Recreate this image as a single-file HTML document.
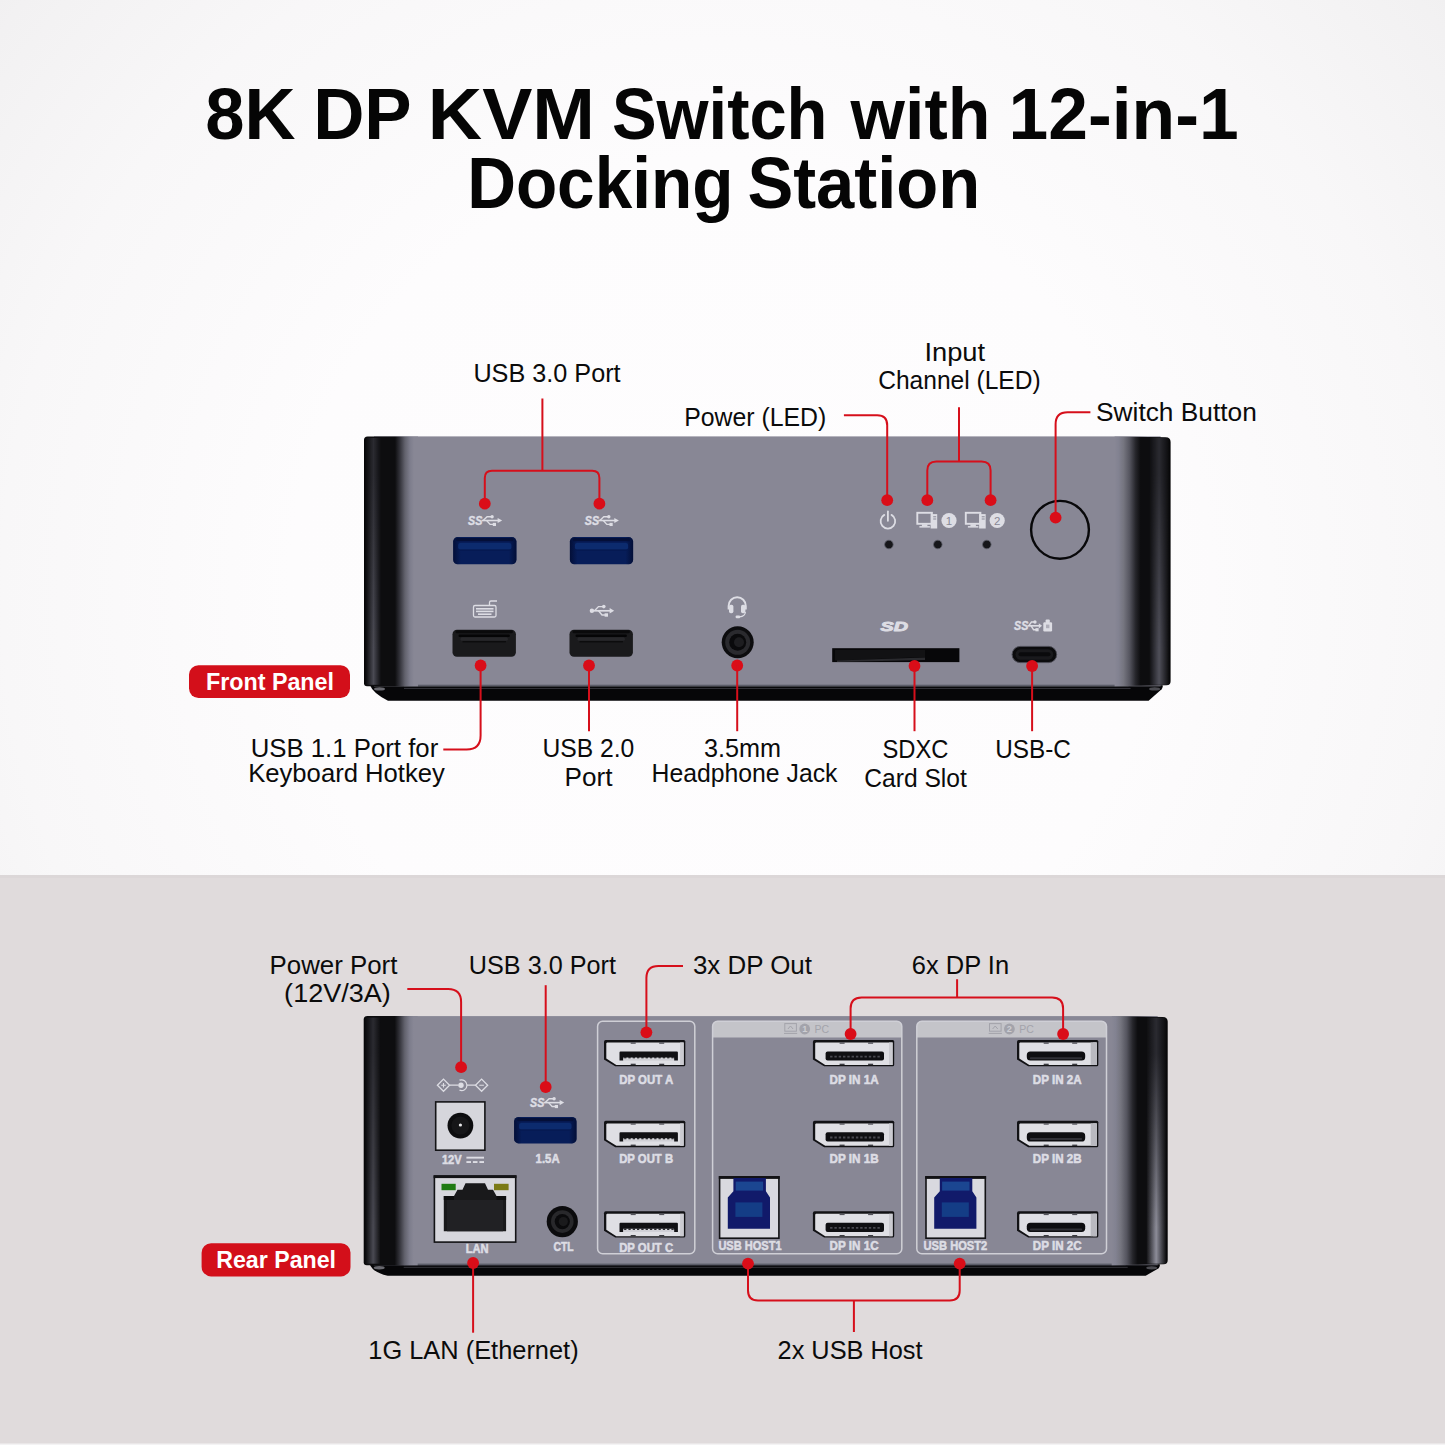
<!DOCTYPE html>
<html><head><meta charset="utf-8"><title>8K DP KVM Switch</title>
<style>
html,body{margin:0;padding:0;background:#fff;}
body{width:1445px;height:1445px;overflow:hidden;}
svg{display:block;font-family:"Liberation Sans",sans-serif;}
</style></head><body>
<svg width="1445" height="1445" viewBox="0 0 1445 1445">
<defs>
<radialGradient id="bgTop" gradientUnits="userSpaceOnUse" cx="722" cy="590" r="960">
 <stop offset="0" stop-color="#fefdfe"/><stop offset="0.45" stop-color="#fdfcfd"/><stop offset="0.75" stop-color="#f8f7f8"/><stop offset="0.95" stop-color="#f2f1f2"/><stop offset="1" stop-color="#f0eff0"/>
</radialGradient>
<linearGradient id="usb3h" x1="0" x2="1" y1="0" y2="0">
 <stop offset="0" stop-color="#020a2c" stop-opacity="0.75"/><stop offset="0.12" stop-color="#020a2c" stop-opacity="0"/><stop offset="0.88" stop-color="#020a2c" stop-opacity="0"/><stop offset="1" stop-color="#020a2c" stop-opacity="0.75"/>
</linearGradient>
</defs>
<rect x="0" y="0" width="1445" height="875" fill="url(#bgTop)"/>
<rect x="0" y="875" width="1445" height="570" fill="#e0dbdc"/>
<rect x="0" y="875" width="1445" height="3" fill="#dcd7d8"/>
<rect x="0" y="1443.5" width="1445" height="2" fill="#f4f3f4"/>
<text x="205.33" y="138.7" font-size="71.6" font-weight="bold" fill="#050505" textLength="90.28" lengthAdjust="spacingAndGlyphs" >8K</text>
<text x="313.14" y="138.7" font-size="71.6" font-weight="bold" fill="#050505" textLength="98.50" lengthAdjust="spacingAndGlyphs" >DP</text>
<text x="427.80" y="138.7" font-size="71.6" font-weight="bold" fill="#050505" textLength="167.18" lengthAdjust="spacingAndGlyphs" >KVM</text>
<text x="611.93" y="138.7" font-size="71.6" font-weight="bold" fill="#050505" textLength="215.56" lengthAdjust="spacingAndGlyphs" >Switch</text>
<text x="850.58" y="138.7" font-size="71.6" font-weight="bold" fill="#050505" textLength="139.87" lengthAdjust="spacingAndGlyphs" >with</text>
<text x="1008.61" y="138.7" font-size="71.6" font-weight="bold" fill="#050505" textLength="230.00" lengthAdjust="spacingAndGlyphs" >12-in-1</text>
<text x="467.13" y="208.2" font-size="71.6" font-weight="bold" fill="#050505" textLength="266.33" lengthAdjust="spacingAndGlyphs" >Docking</text>
<text x="747.38" y="208.2" font-size="71.6" font-weight="bold" fill="#050505" textLength="232.80" lengthAdjust="spacingAndGlyphs" >Station</text>
<linearGradient id="sl1" gradientUnits="userSpaceOnUse" x1="364" x2="418.0" y1="0" y2="0"><stop offset="0.0000" stop-color="#040405"/><stop offset="0.0370" stop-color="#0c0c0e"/><stop offset="0.2963" stop-color="#0d0d0f"/><stop offset="0.5741" stop-color="#0d0d0f"/><stop offset="0.6574" stop-color="#303037"/><stop offset="0.7593" stop-color="#62626d"/><stop offset="0.8519" stop-color="#7d7d8c"/><stop offset="0.9259" stop-color="#888795"/><stop offset="1.0000" stop-color="#888795"/></linearGradient>
<linearGradient id="sr1" gradientUnits="userSpaceOnUse" x1="1170.6" x2="1114.6" y1="0" y2="0"><stop offset="0.0000" stop-color="#050506"/><stop offset="0.0446" stop-color="#0b0b0d"/><stop offset="0.3571" stop-color="#0d0d0f"/><stop offset="0.5357" stop-color="#0d0d0f"/><stop offset="0.6250" stop-color="#26262b"/><stop offset="0.7321" stop-color="#55555f"/><stop offset="0.8393" stop-color="#75757f"/><stop offset="0.9286" stop-color="#828291"/><stop offset="1.0000" stop-color="#888795"/></linearGradient>
<path d="M370,685.3 Q373,693.3 388,700.8 L1148.6,700.8 L1161.6,689.3 Q1163.1,687.3 1162.6,685.3 Z" fill="#060608"/>
<ellipse cx="379.5" cy="688.9" rx="5.5" ry="1.7" fill="#8a8a92" opacity="0.75"/>
<ellipse cx="1154.6" cy="688.9" rx="5.5" ry="1.6" fill="#7a7a82" opacity="0.6"/>
<rect x="404" y="687.9" width="726.5999999999999" height="1.1" fill="#34343b" opacity="0.9"/>
<rect x="374" y="436.4" width="786.5999999999999" height="249.89999999999998" fill="#888795"/>
<rect x="404.0" y="684.6999999999999" width="724.5999999999999" height="1.6" fill="#5b5c68"/>
<path d="M367.5,436.4 L418.0,436.4 L418.0,686.3 L367,686.3 Q364,686.3 364,683.3 L364,439.9 Q364,436.4 367.5,436.4 Z" fill="url(#sl1)"/>
<path d="M1165.6,437.2 L1114.6,436.4 L1114.6,686.3 L1166.6,685.3 Q1170.6,685.3 1170.6,681.3 L1170.6,441.9 Q1170.6,437.2 1165.6,437.2 Z" fill="url(#sr1)"/>
<linearGradient id="hl1h" gradientUnits="userSpaceOnUse" x1="366.0" x2="381.0" y1="0" y2="0"><stop offset="0" stop-color="#000"/><stop offset="0.3" stop-color="#999"/><stop offset="0.5" stop-color="#fff"/><stop offset="0.7" stop-color="#999"/><stop offset="1" stop-color="#000"/></linearGradient>
<linearGradient id="hl1v" gradientUnits="userSpaceOnUse" x1="0" x2="0" y1="436.4" y2="686.3"><stop offset="0" stop-color="#2b2b31"/><stop offset="0.15" stop-color="#2b2b31"/><stop offset="0.85" stop-color="#4a4a53"/><stop offset="1" stop-color="#4a4a53"/></linearGradient>
<mask id="hl1m" maskUnits="userSpaceOnUse" x="366.0" y="436.4" width="15.0" height="249.89999999999998"><rect x="366.0" y="436.4" width="15.0" height="249.89999999999998" fill="url(#hl1h)"/></mask>
<rect x="366.0" y="437.9" width="15.0" height="246.89999999999998" fill="url(#hl1v)" mask="url(#hl1m)"/>
<linearGradient id="hr1h" gradientUnits="userSpaceOnUse" x1="1149.1" x2="1169.1" y1="0" y2="0"><stop offset="0" stop-color="#000"/><stop offset="0.3" stop-color="#999"/><stop offset="0.5" stop-color="#fff"/><stop offset="0.7" stop-color="#999"/><stop offset="1" stop-color="#000"/></linearGradient>
<linearGradient id="hr1v" gradientUnits="userSpaceOnUse" x1="0" x2="0" y1="436.4" y2="686.3"><stop offset="0" stop-color="#2b2b31"/><stop offset="0.15" stop-color="#2b2b31"/><stop offset="0.85" stop-color="#50505a"/><stop offset="1" stop-color="#50505a"/></linearGradient>
<mask id="hr1m" maskUnits="userSpaceOnUse" x="1149.1" y="436.4" width="20" height="249.89999999999998"><rect x="1149.1" y="436.4" width="20" height="249.89999999999998" fill="url(#hr1h)"/></mask>
<rect x="1149.1" y="437.9" width="20" height="246.89999999999998" fill="url(#hr1v)" mask="url(#hr1m)"/>
<rect x="453.2" y="537.1" width="63.2" height="27.2" rx="4.5" fill="#071d59"/>
<rect x="453.2" y="537.1" width="63.2" height="27.2" rx="4.5" fill="url(#usb3h)"/>
<rect x="456.2" y="538.1" width="57.2" height="3.2" rx="1.5" fill="#040f38"/>
<rect x="458.2" y="543.1" width="53.2" height="6.5" rx="2" fill="#0c2b6e"/>
<rect x="458.2" y="549.6" width="53.2" height="1.2" fill="#061a52"/>
<rect x="569.9" y="537.1" width="63.2" height="27.2" rx="4.5" fill="#071d59"/>
<rect x="569.9" y="537.1" width="63.2" height="27.2" rx="4.5" fill="url(#usb3h)"/>
<rect x="572.9" y="538.1" width="57.2" height="3.2" rx="1.5" fill="#040f38"/>
<rect x="574.9" y="543.1" width="53.2" height="6.5" rx="2" fill="#0c2b6e"/>
<rect x="574.9" y="549.6" width="53.2" height="1.2" fill="#061a52"/>
<rect x="452.5" y="629.8" width="63.4" height="27" rx="4.5" fill="#1a1a1c"/>
<rect x="455.5" y="630.3" width="57.4" height="3" rx="1.5" fill="#0a0a0b"/>
<rect x="458.5" y="634.5999999999999" width="51.4" height="2.4" rx="1.2" fill="#050506"/>
<rect x="460.5" y="637.1999999999999" width="47.4" height="3.6" rx="1.5" fill="#27272a"/>
<rect x="462.5" y="641.0" width="43.4" height="1.4" fill="#0c0c0d"/>
<rect x="569.5" y="629.8" width="63.4" height="27" rx="4.5" fill="#1a1a1c"/>
<rect x="572.5" y="630.3" width="57.4" height="3" rx="1.5" fill="#0a0a0b"/>
<rect x="575.5" y="634.5999999999999" width="51.4" height="2.4" rx="1.2" fill="#050506"/>
<rect x="577.5" y="637.1999999999999" width="47.4" height="3.6" rx="1.5" fill="#27272a"/>
<rect x="579.5" y="641.0" width="43.4" height="1.4" fill="#0c0c0d"/>
<g fill="#dddde4" stroke="none">
<text x="468.09999999999997" y="524.9000000000001" font-size="12" font-weight="bold" font-style="italic" textLength="14.2" lengthAdjust="spacingAndGlyphs" fill="#dddde4" stroke="#dddde4" stroke-width="0.45">SS</text>
<path d="M481.59999999999997,520.524 L498.59999999999997,520.524" stroke="#dddde4" stroke-width="1.6" fill="none"/>
<path d="M483.09999999999997,520.524 L487.09999999999997,516.724 L491.59999999999997,516.724" stroke="#dddde4" stroke-width="1.4" fill="none"/>
<path d="M486.59999999999997,520.524 L490.09999999999997,524.424 L493.59999999999997,524.424" stroke="#dddde4" stroke-width="1.4" fill="none"/>
<circle cx="492.09999999999997" cy="516.724" r="1.7"/>
<rect x="492.79999999999995" y="522.824" width="3.2" height="3.2"/>
<path d="M497.59999999999997,517.924 L502.2,520.524 L497.59999999999997,523.124 Z"/>
</g>
<g fill="#dddde4" stroke="none">
<text x="584.8000000000001" y="524.9000000000001" font-size="12" font-weight="bold" font-style="italic" textLength="14.2" lengthAdjust="spacingAndGlyphs" fill="#dddde4" stroke="#dddde4" stroke-width="0.45">SS</text>
<path d="M598.3000000000001,520.524 L615.3000000000001,520.524" stroke="#dddde4" stroke-width="1.6" fill="none"/>
<path d="M599.8000000000001,520.524 L603.8000000000001,516.724 L608.3000000000001,516.724" stroke="#dddde4" stroke-width="1.4" fill="none"/>
<path d="M603.3000000000001,520.524 L606.8000000000001,524.424 L610.3000000000001,524.424" stroke="#dddde4" stroke-width="1.4" fill="none"/>
<circle cx="608.8000000000001" cy="516.724" r="1.7"/>
<rect x="609.5000000000001" y="522.824" width="3.2" height="3.2"/>
<path d="M614.3000000000001,517.924 L618.9000000000001,520.524 L614.3000000000001,523.124 Z"/>
</g>
<g stroke="#dddde4" fill="none" stroke-width="1.3"><rect x="473.5" y="605.5" width="22.5" height="11.5" rx="1.5"/><path d="M489.5,605.5 V602.5 Q489.5,601 491,601 H497"/></g>
<g fill="#dddde4"><rect x="476" y="608" width="17.5" height="1.6"/><rect x="476" y="610.6" width="17.5" height="1.6"/><rect x="478" y="613.4" width="13.5" height="1.6"/></g>
<g fill="#dddde4" stroke="#dddde4"><path d="M591,610.8 H611" stroke-width="1.7" fill="none"/><path d="M594.5,610.8 L598.5,606.6 H603" stroke-width="1.4" fill="none"/><path d="M598.5,610.8 L602,615 H605.5" stroke-width="1.4" fill="none"/><circle cx="591.9" cy="610.8" r="2.2" stroke="none"/><circle cx="603.8" cy="606.6" r="1.8" stroke="none"/><rect x="604.6" y="613.3" width="3.4" height="3.4" stroke="none"/><path d="M609.6,608 L614.2,610.8 L609.6,613.6 Z" stroke="none"/></g>
<g stroke="#dddde4" fill="none" stroke-width="1.9"><path d="M728.6,609.5 V606 a8.6,8.8 0 0 1 17.2,0 V609.5"/><path d="M745.4,612 Q745.2,616.3 739.5,616.9" stroke-width="1.2"/></g>
<g fill="#dddde4"><rect x="729" y="604.8" width="4.4" height="8.4" rx="1.8"/><rect x="741" y="604.8" width="4.4" height="8.4" rx="1.8"/><rect x="735.6" y="615.4" width="4.6" height="2.9" rx="1.2"/></g>
<circle cx="737.7" cy="642.3" r="16" fill="#0c0c0e"/><circle cx="737.7" cy="642.3" r="12.5" fill="#2a2a2e"/><circle cx="737.7" cy="642.3" r="8.5" fill="#0a0a0c"/><circle cx="739" cy="642.3" r="5" fill="#1d1d20"/>
<g stroke="#dddde4" fill="none" stroke-width="1.8" stroke-linecap="round"><path d="M884.3,514.9 A7.3,7.3 0 1 0 891.5,514.9"/><path d="M887.9,511.3 V520.8"/></g>
<g stroke="#dddde4" fill="none" stroke-width="1.9"><rect x="917.3" y="512.8000000000001" width="14.6" height="11"/></g>
<g fill="#dddde4"><rect x="921.9" y="524.2" width="5.5" height="2.3"/><rect x="919.4" y="526.1" width="10.5" height="1.5"/><rect x="930.6" y="514.1" width="6.6" height="14.4"/></g>
<g fill="#888795"><rect x="933.1999999999999" y="516.3000000000001" width="3" height="1"/><rect x="933.1999999999999" y="518.5" width="3" height="1"/></g>
<g stroke="#dddde4" fill="none" stroke-width="1.9"><rect x="965.8" y="512.8000000000001" width="14.6" height="11"/></g>
<g fill="#dddde4"><rect x="970.4" y="524.2" width="5.5" height="2.3"/><rect x="967.9" y="526.1" width="10.5" height="1.5"/><rect x="979.1" y="514.1" width="6.6" height="14.4"/></g>
<g fill="#888795"><rect x="981.6999999999999" y="516.3000000000001" width="3" height="1"/><rect x="981.6999999999999" y="518.5" width="3" height="1"/></g>
<circle cx="949" cy="520.5" r="7.6" fill="#dddde4"/>
<text x="949" y="524.6" font-size="11.5" text-anchor="middle" fill="#888795">1</text>
<circle cx="997.2" cy="520.5" r="7.6" fill="#dddde4"/>
<text x="997.2" y="524.6" font-size="11.5" text-anchor="middle" fill="#888795">2</text>
<circle cx="888.9" cy="544.5" r="4.3" fill="#16161a" stroke="#5e5f6b" stroke-width="0.8"/>
<circle cx="937.8" cy="544.5" r="4.3" fill="#16161a" stroke="#5e5f6b" stroke-width="0.8"/>
<circle cx="986.8" cy="544.5" r="4.3" fill="#16161a" stroke="#5e5f6b" stroke-width="0.8"/>
<circle cx="1060" cy="529.8" r="28.9" fill="none" stroke="#08080a" stroke-width="2.4"/>
<text x="880.6" y="630.9" font-size="13.2" font-weight="bold" font-style="italic" fill="#dddde4" stroke="#dddde4" stroke-width="0.9" stroke-linejoin="round" textLength="27.4" lengthAdjust="spacingAndGlyphs">SD</text>
<rect x="832.2" y="648.2" width="127.2" height="13.9" fill="#070709"/><path d="M835,650 H925 V657 L838,660.5 H835 Z" fill="#121214"/><path d="M837,660.6 L925,657.6 V660 L837,662.1 Z" fill="#2a2a2e"/>
<g fill="#dddde4" stroke="none">
<text x="1014.1" y="630.2" font-size="12" font-weight="bold" font-style="italic" textLength="14.2" lengthAdjust="spacingAndGlyphs" fill="#dddde4" stroke="#dddde4" stroke-width="0.45">SS</text>
<path d="M1027.6,625.824 L1039.5,625.824" stroke="#dddde4" stroke-width="1.6" fill="none"/>
<path d="M1028.6499999999999,625.824 L1031.4499999999998,622.024 L1034.6,622.024" stroke="#dddde4" stroke-width="1.4" fill="none"/>
<path d="M1031.1,625.824 L1033.55,629.7239999999999 L1036.0,629.7239999999999" stroke="#dddde4" stroke-width="1.4" fill="none"/>
<circle cx="1034.9499999999998" cy="622.024" r="1.7"/>
<rect x="1035.4399999999998" y="628.1239999999999" width="3.2" height="3.2"/>
<path d="M1038.8,623.2239999999999 L1042.02,625.824 L1038.8,628.424 Z"/>
</g>
<g fill="#dddde4"><rect x="1043.3" y="622.2" width="8.8" height="9.3" rx="1.2"/><rect x="1045.6" y="619.6" width="4.2" height="3.4" rx="1"/><rect x="1046" y="624.6" width="3.4" height="3.6" fill="#888795" opacity="0.55"/></g>
<rect x="1012.1" y="646.4" width="44.6" height="16.2" rx="8.1" fill="#0b0b0d" stroke="#4b4b55" stroke-width="1"/><rect x="1015.5" y="649.3" width="37.8" height="10.4" rx="5.2" fill="#19191c"/><rect x="1018.5" y="652.3" width="32" height="4" rx="2" fill="#0a0a0c"/>
<text x="473.40" y="382.4" font-size="25.3" font-weight="normal" fill="#0b0b0b" textLength="147.23" lengthAdjust="spacingAndGlyphs" >USB 3.0 Port</text>
<path d="M542.4,398.5 V470.8 M484.8,503.7 V478 Q484.8,470.8 492,470.8 H592.2 Q599.4,470.8 599.4,478 V503.7" fill="none" stroke="#d60f1b" stroke-width="2"/>
<circle cx="484.8" cy="503.7" r="5.9" fill="#da0d18"/>
<circle cx="599.4" cy="503.7" r="5.9" fill="#da0d18"/>
<text x="684.24" y="425.9" font-size="25.3" font-weight="normal" fill="#0b0b0b" textLength="142.06" lengthAdjust="spacingAndGlyphs" >Power (LED)</text>
<path d="M843.9,415.2 H877.2 Q887.2,415.2 887.2,425.2 V500" fill="none" stroke="#d60f1b" stroke-width="2"/>
<circle cx="887.2" cy="500.2" r="5.9" fill="#da0d18"/>
<text x="924.44" y="360.6" font-size="25.3" font-weight="normal" fill="#0b0b0b" textLength="60.69" lengthAdjust="spacingAndGlyphs" >Input</text>
<text x="878.23" y="389.0" font-size="25.3" font-weight="normal" fill="#0b0b0b" textLength="162.35" lengthAdjust="spacingAndGlyphs" >Channel (LED)</text>
<path d="M959,407.2 V461.5 M927.3,500 V470.5 Q927.3,461.5 936.3,461.5 H981.6 Q990.6,461.5 990.6,470.5 V500" fill="none" stroke="#d60f1b" stroke-width="2"/>
<circle cx="927.3" cy="500.2" r="5.9" fill="#da0d18"/>
<circle cx="990.6" cy="500.2" r="5.9" fill="#da0d18"/>
<text x="1096.06" y="420.5" font-size="25.3" font-weight="normal" fill="#0b0b0b" textLength="160.75" lengthAdjust="spacingAndGlyphs" >Switch Button</text>
<path d="M1090.4,412.2 H1067.6 Q1055.6,412.2 1055.6,424.2 V517" fill="none" stroke="#d60f1b" stroke-width="2"/>
<circle cx="1055.6" cy="517.7" r="5.9" fill="#da0d18"/>
<circle cx="480.6" cy="665.5" r="5.9" fill="#da0d18"/>
<circle cx="589.0" cy="665.5" r="5.9" fill="#da0d18"/>
<circle cx="737.2" cy="665.5" r="5.9" fill="#da0d18"/>
<circle cx="914.5" cy="666.0" r="5.9" fill="#da0d18"/>
<circle cx="1032.1" cy="666.0" r="5.9" fill="#da0d18"/>
<path d="M480.6,665.5 V735.6 Q480.6,749.6 466.6,749.6 H443.3" fill="none" stroke="#d60f1b" stroke-width="2"/>
<path d="M589,665.5 V731.2" fill="none" stroke="#d60f1b" stroke-width="2"/>
<path d="M737.2,665.5 V731.2" fill="none" stroke="#d60f1b" stroke-width="2"/>
<path d="M914.5,666 V731.2" fill="none" stroke="#d60f1b" stroke-width="2"/>
<path d="M1032.1,666 V731.2" fill="none" stroke="#d60f1b" stroke-width="2"/>
<text x="250.68" y="757.1" font-size="25.3" font-weight="normal" fill="#0b0b0b" textLength="187.55" lengthAdjust="spacingAndGlyphs" >USB 1.1 Port for</text>
<text x="248.17" y="782.0" font-size="25.3" font-weight="normal" fill="#0b0b0b" textLength="196.77" lengthAdjust="spacingAndGlyphs" >Keyboard Hotkey</text>
<text x="542.42" y="756.9" font-size="25.3" font-weight="normal" fill="#0b0b0b" textLength="91.94" lengthAdjust="spacingAndGlyphs" >USB 2.0</text>
<text x="564.54" y="785.5" font-size="25.3" font-weight="normal" fill="#0b0b0b" textLength="47.89" lengthAdjust="spacingAndGlyphs" >Port</text>
<text x="704.00" y="756.9" font-size="25.3" font-weight="normal" fill="#0b0b0b" textLength="77.07" lengthAdjust="spacingAndGlyphs" >3.5mm</text>
<text x="651.54" y="781.8" font-size="25.3" font-weight="normal" fill="#0b0b0b" textLength="185.91" lengthAdjust="spacingAndGlyphs" >Headphone Jack</text>
<text x="882.46" y="757.6" font-size="25.3" font-weight="normal" fill="#0b0b0b" textLength="65.99" lengthAdjust="spacingAndGlyphs" >SDXC</text>
<text x="864.23" y="786.8" font-size="25.3" font-weight="normal" fill="#0b0b0b" textLength="102.60" lengthAdjust="spacingAndGlyphs" >Card Slot</text>
<text x="995.24" y="757.6" font-size="25.3" font-weight="normal" fill="#0b0b0b" textLength="75.72" lengthAdjust="spacingAndGlyphs" >USB-C</text>
<rect x="189" y="665.3" width="161" height="32.8" rx="9.5" fill="#d30f1a"/>
<text x="205.93" y="689.6" font-size="24.0" font-weight="bold" fill="#ffffff" textLength="128.09" lengthAdjust="spacingAndGlyphs" >Front Panel</text>
<rect x="201.6" y="1243.3" width="148.9" height="33.1" rx="9.5" fill="#d30f1a"/>
<text x="216.23" y="1268.2" font-size="24.0" font-weight="bold" fill="#ffffff" textLength="119.78" lengthAdjust="spacingAndGlyphs" >Rear Panel</text>
<linearGradient id="sl2" gradientUnits="userSpaceOnUse" x1="363.7" x2="417.7" y1="0" y2="0"><stop offset="0.0000" stop-color="#040405"/><stop offset="0.0370" stop-color="#0c0c0e"/><stop offset="0.2963" stop-color="#0d0d0f"/><stop offset="0.5741" stop-color="#0d0d0f"/><stop offset="0.6574" stop-color="#303037"/><stop offset="0.7593" stop-color="#62626d"/><stop offset="0.8519" stop-color="#7d7d8c"/><stop offset="0.9259" stop-color="#888795"/><stop offset="1.0000" stop-color="#888795"/></linearGradient>
<linearGradient id="sr2" gradientUnits="userSpaceOnUse" x1="1167.7" x2="1111.7" y1="0" y2="0"><stop offset="0.0000" stop-color="#050506"/><stop offset="0.0446" stop-color="#0b0b0d"/><stop offset="0.3571" stop-color="#0d0d0f"/><stop offset="0.5357" stop-color="#0d0d0f"/><stop offset="0.6250" stop-color="#26262b"/><stop offset="0.7321" stop-color="#55555f"/><stop offset="0.8393" stop-color="#75757f"/><stop offset="0.9286" stop-color="#828291"/><stop offset="1.0000" stop-color="#888795"/></linearGradient>
<path d="M369.7,1264.2 Q372.7,1272.2 387.7,1275.8 L1145.7,1275.8 L1158.7,1268.2 Q1160.2,1266.2 1159.7,1264.2 Z" fill="#060608"/>
<ellipse cx="379.2" cy="1267.8" rx="5.5" ry="1.7" fill="#8a8a92" opacity="0.75"/>
<ellipse cx="1151.7" cy="1267.8" rx="5.5" ry="1.6" fill="#7a7a82" opacity="0.6"/>
<rect x="403.7" y="1266.8" width="724.0" height="1.1" fill="#34343b" opacity="0.9"/>
<rect x="373.7" y="1016.1" width="784.0" height="249.10000000000002" fill="#888795"/>
<rect x="403.7" y="1263.6000000000001" width="722.0" height="1.6" fill="#5b5c68"/>
<path d="M367.2,1016.1 L417.7,1016.1 L417.7,1265.2 L366.7,1265.2 Q363.7,1265.2 363.7,1262.2 L363.7,1019.6 Q363.7,1016.1 367.2,1016.1 Z" fill="url(#sl2)"/>
<path d="M1162.7,1016.9 L1111.7,1016.1 L1111.7,1265.2 L1163.7,1264.2 Q1167.7,1264.2 1167.7,1260.2 L1167.7,1021.6 Q1167.7,1016.9 1162.7,1016.9 Z" fill="url(#sr2)"/>
<linearGradient id="hl2h" gradientUnits="userSpaceOnUse" x1="365.7" x2="380.7" y1="0" y2="0"><stop offset="0" stop-color="#000"/><stop offset="0.3" stop-color="#999"/><stop offset="0.5" stop-color="#fff"/><stop offset="0.7" stop-color="#999"/><stop offset="1" stop-color="#000"/></linearGradient>
<linearGradient id="hl2v" gradientUnits="userSpaceOnUse" x1="0" x2="0" y1="1016.1" y2="1265.2"><stop offset="0" stop-color="#2b2b31"/><stop offset="0.15" stop-color="#2b2b31"/><stop offset="0.85" stop-color="#4a4a53"/><stop offset="1" stop-color="#4a4a53"/></linearGradient>
<mask id="hl2m" maskUnits="userSpaceOnUse" x="365.7" y="1016.1" width="15.0" height="249.10000000000002"><rect x="365.7" y="1016.1" width="15.0" height="249.10000000000002" fill="url(#hl2h)"/></mask>
<rect x="365.7" y="1017.6" width="15.0" height="246.10000000000002" fill="url(#hl2v)" mask="url(#hl2m)"/>
<linearGradient id="hr2h" gradientUnits="userSpaceOnUse" x1="1146.2" x2="1166.2" y1="0" y2="0"><stop offset="0" stop-color="#000"/><stop offset="0.3" stop-color="#999"/><stop offset="0.5" stop-color="#fff"/><stop offset="0.7" stop-color="#999"/><stop offset="1" stop-color="#000"/></linearGradient>
<linearGradient id="hr2v" gradientUnits="userSpaceOnUse" x1="0" x2="0" y1="1016.1" y2="1265.2"><stop offset="0" stop-color="#2b2b31"/><stop offset="0.15" stop-color="#2b2b31"/><stop offset="0.85" stop-color="#8d8d99"/><stop offset="1" stop-color="#8d8d99"/></linearGradient>
<mask id="hr2m" maskUnits="userSpaceOnUse" x="1146.2" y="1016.1" width="20" height="249.10000000000002"><rect x="1146.2" y="1016.1" width="20" height="249.10000000000002" fill="url(#hr2h)"/></mask>
<rect x="1146.2" y="1017.6" width="20" height="246.10000000000002" fill="url(#hr2v)" mask="url(#hr2m)"/>
<g stroke="#dddde4" fill="none" stroke-width="1.25"><path d="M437.4,1085.2 l6.1,-6.1 l6.1,6.1 l-6.1,6.1 Z"/><path d="M475.5,1085.2 l6.1,-6.1 l6.1,6.1 l-6.1,6.1 Z"/><path d="M449.6,1085.2 H458.5 M467,1085.2 H475.5"/><path d="M459.5,1080.2 A5.4,5.4 0 1 1 459.5,1090.2" /><path d="M441.2,1085.2 h4.6 M443.5,1082.9 v4.6 M479.3,1085.2 h4.6" stroke-width="1.1"/></g><circle cx="461" cy="1085.2" r="2.7" fill="#dddde4"/>
<rect x="435.7" y="1101.9" width="49.2" height="48.3" fill="#d6d6dc" stroke="#141417" stroke-width="1.6"/><circle cx="460.4" cy="1125.6" r="12.9" fill="#0d0d0f"/><circle cx="460.4" cy="1125.6" r="9" fill="#161618"/><circle cx="460.4" cy="1125" r="1.6" fill="#e8e8ea"/>
<text x="441.90" y="1164.1" font-size="12.7" font-weight="bold" fill="#dddde4" textLength="19.83" lengthAdjust="spacingAndGlyphs" stroke="#dddde4" stroke-width="0.55" stroke-linejoin="round">12V</text>
<g fill="#dddde4"><rect x="466.4" y="1156.7" width="17.6" height="1.9"/><rect x="466.4" y="1161.1" width="4.6" height="1.9"/><rect x="472.9" y="1161.1" width="4.6" height="1.9"/><rect x="479.4" y="1161.1" width="4.6" height="1.9"/></g>
<g fill="#dddde4" stroke="none">
<text x="530.1" y="1107.0" font-size="12" font-weight="bold" font-style="italic" textLength="14.2" lengthAdjust="spacingAndGlyphs" fill="#dddde4" stroke="#dddde4" stroke-width="0.45">SS</text>
<path d="M543.6,1102.624 L560.6,1102.624" stroke="#dddde4" stroke-width="1.6" fill="none"/>
<path d="M545.1,1102.624 L549.1,1098.824 L553.6,1098.824" stroke="#dddde4" stroke-width="1.4" fill="none"/>
<path d="M548.6,1102.624 L552.1,1106.5240000000001 L555.6,1106.5240000000001" stroke="#dddde4" stroke-width="1.4" fill="none"/>
<circle cx="554.1" cy="1098.824" r="1.7"/>
<rect x="554.8000000000001" y="1104.924" width="3.2" height="3.2"/>
<path d="M559.6,1100.0240000000001 L564.2,1102.624 L559.6,1105.224 Z"/>
</g>
<rect x="514.1" y="1117" width="62.4" height="26.4" rx="4.5" fill="#071d59"/>
<rect x="514.1" y="1117" width="62.4" height="26.4" rx="4.5" fill="url(#usb3h)"/>
<rect x="517.1" y="1118" width="56.4" height="3.2" rx="1.5" fill="#040f38"/>
<rect x="519.1" y="1123" width="52.4" height="6.5" rx="2" fill="#0c2b6e"/>
<rect x="519.1" y="1129.5" width="52.4" height="1.2" fill="#061a52"/>
<text x="535.60" y="1162.7" font-size="12.7" font-weight="bold" fill="#dddde4" textLength="24.05" lengthAdjust="spacingAndGlyphs" stroke="#dddde4" stroke-width="0.55" stroke-linejoin="round">1.5A</text>
<rect x="434.4" y="1176.1" width="81.3" height="66" fill="#d7d7dd" stroke="#131316" stroke-width="1.6"/>
<rect x="433.6" y="1175.3" width="82.9" height="2.8" fill="#131316"/>
<path d="M443.8,1196 H454 L457.5,1189.7 H462.5 L465.5,1183.2 H485 L488,1189.7 H493 L496.5,1196 H506.1 V1231.2 H443.8 Z" fill="#19191b"/>
<path d="M447,1200 H503 V1231.2 H447 Z" fill="#212124"/>
<path d="M443.8,1196 H454 V1200 H443.8 Z M496.5,1196 H506.1 V1200 H496.5 Z" fill="#0d0d0e"/>
<rect x="441.5" y="1183.8" width="14.2" height="6.4" fill="#1f7a12"/><rect x="494" y="1183.8" width="14.6" height="6.4" fill="#7b7a16"/>
<text x="465.70" y="1252.7" font-size="12.7" font-weight="bold" fill="#dddde4" textLength="22.94" lengthAdjust="spacingAndGlyphs" stroke="#dddde4" stroke-width="0.55" stroke-linejoin="round">LAN</text>
<circle cx="562.3" cy="1221.6" r="15.6" fill="#0b0b0d"/><circle cx="562.3" cy="1221.6" r="11.3" fill="#28282b"/><circle cx="562.3" cy="1221.6" r="7.6" fill="#0a0a0c"/><circle cx="563.3" cy="1221.6" r="4.6" fill="#1a1a1c"/>
<text x="553.60" y="1251.3" font-size="12.7" font-weight="bold" fill="#dddde4" textLength="20.10" lengthAdjust="spacingAndGlyphs" stroke="#dddde4" stroke-width="0.55" stroke-linejoin="round">CTL</text>
<rect x="597.6" y="1021.2" width="97.2" height="232.6" rx="5" fill="none" stroke="#cfcfd6" stroke-width="1.5"/>
<path d="M712.6,1037.4 V1026.2 Q712.6,1021.2 717.6,1021.2 H896.8 Q901.8,1021.2 901.8,1026.2 V1037.4 Z" fill="#c4c4c9"/>
<rect x="712.6" y="1021.2" width="189.19999999999993" height="232.6" rx="5" fill="none" stroke="#cfcfd6" stroke-width="1.5"/>
<path d="M916.8,1037.4 V1026.2 Q916.8,1021.2 921.8,1021.2 H1101.5 Q1106.5,1021.2 1106.5,1026.2 V1037.4 Z" fill="#c4c4c9"/>
<rect x="916.8" y="1021.2" width="189.70000000000005" height="232.6" rx="5" fill="none" stroke="#cfcfd6" stroke-width="1.5"/>
<g stroke="#a3a3ab" fill="none" stroke-width="1"><rect x="784.8000000000001" y="1023.6" width="11.6" height="7.6"/><path d="M784.0,1033.4 h13.2"/><path d="M787.9,1029 l2.6,-3 l2.6,3"/></g>
<circle cx="804.7" cy="1029" r="5.4" fill="#a3a3ab"/><text x="804.7" y="1032.3" font-size="9.2" font-weight="bold" text-anchor="middle" fill="#cdcdd2">1</text>
<text x="814.6" y="1032.9" font-size="11.2" fill="#a3a3ab" textLength="14.6" lengthAdjust="spacingAndGlyphs">PC</text>
<g stroke="#a3a3ab" fill="none" stroke-width="1"><rect x="989.5" y="1023.6" width="11.6" height="7.6"/><path d="M988.6999999999999,1033.4 h13.2"/><path d="M992.5999999999999,1029 l2.6,-3 l2.6,3"/></g>
<circle cx="1009.4" cy="1029" r="5.4" fill="#a3a3ab"/><text x="1009.4" y="1032.3" font-size="9.2" font-weight="bold" text-anchor="middle" fill="#cdcdd2">2</text>
<text x="1019.3" y="1032.9" font-size="11.2" fill="#a3a3ab" textLength="14.6" lengthAdjust="spacingAndGlyphs">PC</text>
<path d="M605.7,1039.9 H683.8000000000001 Q685.3000000000001,1039.9 685.3000000000001,1041.4 V1064.8000000000002 Q685.3000000000001,1066.3000000000002 683.8000000000001,1066.3000000000002 H615.2 L604.0,1059.4 V1041.9 Q604.0,1039.9 605.7,1039.9 Z" fill="#121215"/>
<path d="M607.1,1042.5 H683.7 V1064.9 H616.3000000000001 L606.3000000000001,1058.5 V1043.3000000000002 Z" fill="#dfdfe4"/>
<rect x="680.1" y="1042.5" width="3.6" height="22.4" fill="#cbcbd1"/>
<rect x="630.7" y="1042.3000000000002" width="5" height="1.5" fill="#55555c"/><rect x="659.2" y="1042.3000000000002" width="5" height="1.5" fill="#55555c"/>
<rect x="630.7" y="1063.7000000000003" width="5" height="1.4" fill="#3a3a40"/><rect x="659.2" y="1063.7000000000003" width="5" height="1.4" fill="#3a3a40"/>
<path d="M620.5,1051.4 H676.9 Q677.9,1051.4 677.9,1052.4 V1060.6000000000001 H674.1 V1057.4 H623.3 V1060.6000000000001 H619.5 V1052.4 Q619.5,1051.4 620.5,1051.4 Z" fill="#111114"/>
<path d="M624.1,1057.8000000000002 H673.9" stroke="#2a2a2e" stroke-width="1.6" stroke-dasharray="2.3 2.0"/>
<rect x="623.3" y="1058.7" width="50.8" height="1.8999999999999995" fill="#cfcfd5"/>
<path d="M814.6,1039.9 H892.7 Q894.2,1039.9 894.2,1041.4 V1064.8000000000002 Q894.2,1066.3000000000002 892.7,1066.3000000000002 H824.1 L812.9,1059.4 V1041.9 Q812.9,1039.9 814.6,1039.9 Z" fill="#121215"/>
<path d="M816.0,1042.5 H892.6 V1064.9 H825.2 L815.2,1058.5 V1043.3000000000002 Z" fill="#dfdfe4"/>
<rect x="889.0" y="1042.5" width="3.6" height="22.4" fill="#cbcbd1"/>
<rect x="839.6" y="1042.3000000000002" width="5" height="1.5" fill="#55555c"/><rect x="868.1" y="1042.3000000000002" width="5" height="1.5" fill="#55555c"/>
<rect x="839.6" y="1063.7000000000003" width="5" height="1.4" fill="#3a3a40"/><rect x="868.1" y="1063.7000000000003" width="5" height="1.4" fill="#3a3a40"/>
<rect x="825.6" y="1051.4" width="58.4" height="9.2" rx="2" fill="#0f0f12"/>
<path d="M830.1,1056.6000000000001 H880.0" stroke="#4a4a51" stroke-width="1.8" stroke-dasharray="2.4 1.9"/>
<path d="M1018.7,1039.9 H1096.8 Q1098.3,1039.9 1098.3,1041.4 V1064.8000000000002 Q1098.3,1066.3000000000002 1096.8,1066.3000000000002 H1028.2 L1017.0,1059.4 V1041.9 Q1017.0,1039.9 1018.7,1039.9 Z" fill="#121215"/>
<path d="M1020.1,1042.5 H1096.7 V1064.9 H1029.3 L1019.3000000000001,1058.5 V1043.3000000000002 Z" fill="#dfdfe4"/>
<rect x="1093.1" y="1042.5" width="3.6" height="22.4" fill="#cbcbd1"/>
<rect x="1043.7" y="1042.3000000000002" width="5" height="1.5" fill="#55555c"/><rect x="1072.2" y="1042.3000000000002" width="5" height="1.5" fill="#55555c"/>
<rect x="1043.7" y="1063.7000000000003" width="5" height="1.4" fill="#3a3a40"/><rect x="1072.2" y="1063.7000000000003" width="5" height="1.4" fill="#3a3a40"/>
<rect x="1026.8" y="1051.4" width="58.4" height="9.2" rx="3.6" fill="#0e0e11"/>
<rect x="1029.8" y="1057.2" width="52.4" height="2" rx="1" fill="#303036"/>
<rect x="1090.7" y="1042.5" width="6" height="22.4" fill="#b9b9c0"/>
<path d="M605.7,1120.8 H683.8000000000001 Q685.3000000000001,1120.8 685.3000000000001,1122.3 V1145.7 Q685.3000000000001,1147.2 683.8000000000001,1147.2 H615.2 L604.0,1140.3 V1122.8 Q604.0,1120.8 605.7,1120.8 Z" fill="#121215"/>
<path d="M607.1,1123.3999999999999 H683.7 V1145.8 H616.3000000000001 L606.3000000000001,1139.3999999999999 V1124.2 Z" fill="#dfdfe4"/>
<rect x="680.1" y="1123.3999999999999" width="3.6" height="22.4" fill="#cbcbd1"/>
<rect x="630.7" y="1123.2" width="5" height="1.5" fill="#55555c"/><rect x="659.2" y="1123.2" width="5" height="1.5" fill="#55555c"/>
<rect x="630.7" y="1144.6000000000001" width="5" height="1.4" fill="#3a3a40"/><rect x="659.2" y="1144.6000000000001" width="5" height="1.4" fill="#3a3a40"/>
<path d="M620.5,1132.3 H676.9 Q677.9,1132.3 677.9,1133.3 V1141.5 H674.1 V1138.3 H623.3 V1141.5 H619.5 V1133.3 Q619.5,1132.3 620.5,1132.3 Z" fill="#111114"/>
<path d="M624.1,1138.7 H673.9" stroke="#2a2a2e" stroke-width="1.6" stroke-dasharray="2.3 2.0"/>
<rect x="623.3" y="1139.6" width="50.8" height="1.8999999999999995" fill="#cfcfd5"/>
<path d="M814.6,1120.8 H892.7 Q894.2,1120.8 894.2,1122.3 V1145.7 Q894.2,1147.2 892.7,1147.2 H824.1 L812.9,1140.3 V1122.8 Q812.9,1120.8 814.6,1120.8 Z" fill="#121215"/>
<path d="M816.0,1123.3999999999999 H892.6 V1145.8 H825.2 L815.2,1139.3999999999999 V1124.2 Z" fill="#dfdfe4"/>
<rect x="889.0" y="1123.3999999999999" width="3.6" height="22.4" fill="#cbcbd1"/>
<rect x="839.6" y="1123.2" width="5" height="1.5" fill="#55555c"/><rect x="868.1" y="1123.2" width="5" height="1.5" fill="#55555c"/>
<rect x="839.6" y="1144.6000000000001" width="5" height="1.4" fill="#3a3a40"/><rect x="868.1" y="1144.6000000000001" width="5" height="1.4" fill="#3a3a40"/>
<rect x="825.6" y="1132.3" width="58.4" height="9.2" rx="2" fill="#0f0f12"/>
<path d="M830.1,1137.5 H880.0" stroke="#4a4a51" stroke-width="1.8" stroke-dasharray="2.4 1.9"/>
<path d="M1018.7,1120.8 H1096.8 Q1098.3,1120.8 1098.3,1122.3 V1145.7 Q1098.3,1147.2 1096.8,1147.2 H1028.2 L1017.0,1140.3 V1122.8 Q1017.0,1120.8 1018.7,1120.8 Z" fill="#121215"/>
<path d="M1020.1,1123.3999999999999 H1096.7 V1145.8 H1029.3 L1019.3000000000001,1139.3999999999999 V1124.2 Z" fill="#dfdfe4"/>
<rect x="1093.1" y="1123.3999999999999" width="3.6" height="22.4" fill="#cbcbd1"/>
<rect x="1043.7" y="1123.2" width="5" height="1.5" fill="#55555c"/><rect x="1072.2" y="1123.2" width="5" height="1.5" fill="#55555c"/>
<rect x="1043.7" y="1144.6000000000001" width="5" height="1.4" fill="#3a3a40"/><rect x="1072.2" y="1144.6000000000001" width="5" height="1.4" fill="#3a3a40"/>
<rect x="1026.8" y="1132.3" width="58.4" height="9.2" rx="3.6" fill="#0e0e11"/>
<rect x="1029.8" y="1138.1" width="52.4" height="2" rx="1" fill="#303036"/>
<rect x="1090.7" y="1123.3999999999999" width="6" height="22.4" fill="#b9b9c0"/>
<path d="M605.7,1211.2 H683.8000000000001 Q685.3000000000001,1211.2 685.3000000000001,1212.7 V1236.1000000000001 Q685.3000000000001,1237.6000000000001 683.8000000000001,1237.6000000000001 H615.2 L604.0,1230.7 V1213.2 Q604.0,1211.2 605.7,1211.2 Z" fill="#121215"/>
<path d="M607.1,1213.8 H683.7 V1236.2 H616.3000000000001 L606.3000000000001,1229.8 V1214.6000000000001 Z" fill="#dfdfe4"/>
<rect x="680.1" y="1213.8" width="3.6" height="22.4" fill="#cbcbd1"/>
<rect x="630.7" y="1213.6000000000001" width="5" height="1.5" fill="#55555c"/><rect x="659.2" y="1213.6000000000001" width="5" height="1.5" fill="#55555c"/>
<rect x="630.7" y="1235.0000000000002" width="5" height="1.4" fill="#3a3a40"/><rect x="659.2" y="1235.0000000000002" width="5" height="1.4" fill="#3a3a40"/>
<path d="M620.5,1222.7 H676.9 Q677.9,1222.7 677.9,1223.7 V1231.9 H674.1 V1228.7 H623.3 V1231.9 H619.5 V1223.7 Q619.5,1222.7 620.5,1222.7 Z" fill="#111114"/>
<path d="M624.1,1229.1000000000001 H673.9" stroke="#2a2a2e" stroke-width="1.6" stroke-dasharray="2.3 2.0"/>
<rect x="623.3" y="1230.0" width="50.8" height="1.8999999999999995" fill="#cfcfd5"/>
<path d="M814.6,1211.2 H892.7 Q894.2,1211.2 894.2,1212.7 V1236.1000000000001 Q894.2,1237.6000000000001 892.7,1237.6000000000001 H824.1 L812.9,1230.7 V1213.2 Q812.9,1211.2 814.6,1211.2 Z" fill="#121215"/>
<path d="M816.0,1213.8 H892.6 V1236.2 H825.2 L815.2,1229.8 V1214.6000000000001 Z" fill="#dfdfe4"/>
<rect x="889.0" y="1213.8" width="3.6" height="22.4" fill="#cbcbd1"/>
<rect x="839.6" y="1213.6000000000001" width="5" height="1.5" fill="#55555c"/><rect x="868.1" y="1213.6000000000001" width="5" height="1.5" fill="#55555c"/>
<rect x="839.6" y="1235.0000000000002" width="5" height="1.4" fill="#3a3a40"/><rect x="868.1" y="1235.0000000000002" width="5" height="1.4" fill="#3a3a40"/>
<rect x="825.6" y="1222.7" width="58.4" height="9.2" rx="2" fill="#0f0f12"/>
<path d="M830.1,1227.9 H880.0" stroke="#4a4a51" stroke-width="1.8" stroke-dasharray="2.4 1.9"/>
<path d="M1018.7,1211.2 H1096.8 Q1098.3,1211.2 1098.3,1212.7 V1236.1000000000001 Q1098.3,1237.6000000000001 1096.8,1237.6000000000001 H1028.2 L1017.0,1230.7 V1213.2 Q1017.0,1211.2 1018.7,1211.2 Z" fill="#121215"/>
<path d="M1020.1,1213.8 H1096.7 V1236.2 H1029.3 L1019.3000000000001,1229.8 V1214.6000000000001 Z" fill="#dfdfe4"/>
<rect x="1093.1" y="1213.8" width="3.6" height="22.4" fill="#cbcbd1"/>
<rect x="1043.7" y="1213.6000000000001" width="5" height="1.5" fill="#55555c"/><rect x="1072.2" y="1213.6000000000001" width="5" height="1.5" fill="#55555c"/>
<rect x="1043.7" y="1235.0000000000002" width="5" height="1.4" fill="#3a3a40"/><rect x="1072.2" y="1235.0000000000002" width="5" height="1.4" fill="#3a3a40"/>
<rect x="1026.8" y="1222.7" width="58.4" height="9.2" rx="3.6" fill="#0e0e11"/>
<rect x="1029.8" y="1228.5" width="52.4" height="2" rx="1" fill="#303036"/>
<rect x="1090.7" y="1213.8" width="6" height="22.4" fill="#b9b9c0"/>
<text x="619.20" y="1083.6" font-size="12.7" font-weight="bold" fill="#dddde4" textLength="53.94" lengthAdjust="spacingAndGlyphs" stroke="#dddde4" stroke-width="0.55" stroke-linejoin="round">DP OUT A</text>
<text x="619.20" y="1163.3" font-size="12.7" font-weight="bold" fill="#dddde4" textLength="53.94" lengthAdjust="spacingAndGlyphs" stroke="#dddde4" stroke-width="0.55" stroke-linejoin="round">DP OUT B</text>
<text x="619.20" y="1251.6" font-size="12.7" font-weight="bold" fill="#dddde4" textLength="53.94" lengthAdjust="spacingAndGlyphs" stroke="#dddde4" stroke-width="0.55" stroke-linejoin="round">DP OUT C</text>
<text x="829.60" y="1083.9" font-size="12.7" font-weight="bold" fill="#dddde4" textLength="49.05" lengthAdjust="spacingAndGlyphs" stroke="#dddde4" stroke-width="0.55" stroke-linejoin="round">DP IN 1A</text>
<text x="1032.80" y="1083.9" font-size="12.7" font-weight="bold" fill="#dddde4" textLength="48.85" lengthAdjust="spacingAndGlyphs" stroke="#dddde4" stroke-width="0.55" stroke-linejoin="round">DP IN 2A</text>
<text x="829.60" y="1163.3" font-size="12.7" font-weight="bold" fill="#dddde4" textLength="49.05" lengthAdjust="spacingAndGlyphs" stroke="#dddde4" stroke-width="0.55" stroke-linejoin="round">DP IN 1B</text>
<text x="1032.80" y="1163.3" font-size="12.7" font-weight="bold" fill="#dddde4" textLength="48.85" lengthAdjust="spacingAndGlyphs" stroke="#dddde4" stroke-width="0.55" stroke-linejoin="round">DP IN 2B</text>
<text x="829.60" y="1249.6" font-size="12.7" font-weight="bold" fill="#dddde4" textLength="49.05" lengthAdjust="spacingAndGlyphs" stroke="#dddde4" stroke-width="0.55" stroke-linejoin="round">DP IN 1C</text>
<text x="1032.80" y="1249.6" font-size="12.7" font-weight="bold" fill="#dddde4" textLength="48.85" lengthAdjust="spacingAndGlyphs" stroke="#dddde4" stroke-width="0.55" stroke-linejoin="round">DP IN 2C</text>
<rect x="719.5999999999999" y="1176.8999999999999" width="59.3" height="61.3" fill="#d9d9df" stroke="#121215" stroke-width="1.6"/>
<rect x="718.8" y="1176.1" width="60.9" height="2.8" fill="#121215"/>
<path d="M733.4,1178.1 H765.9 V1191.3 L770.0,1197.5 V1228.6999999999998 H727.8 V1197.5 L733.4,1191.3 Z" fill="#111a6a"/>
<rect x="735.6999999999999" y="1181.6" width="27.4" height="9" fill="#1b4691"/>
<rect x="735.4" y="1202.3999999999999" width="27" height="14.5" fill="#143d86"/>
<rect x="926.0" y="1176.8999999999999" width="59.3" height="61.3" fill="#d9d9df" stroke="#121215" stroke-width="1.6"/>
<rect x="925.2" y="1176.1" width="60.9" height="2.8" fill="#121215"/>
<path d="M939.8000000000001,1178.1 H972.3000000000001 V1191.3 L976.4000000000001,1197.5 V1228.6999999999998 H934.2 V1197.5 L939.8000000000001,1191.3 Z" fill="#111a6a"/>
<rect x="942.1" y="1181.6" width="27.4" height="9" fill="#1b4691"/>
<rect x="941.8000000000001" y="1202.3999999999999" width="27" height="14.5" fill="#143d86"/>
<text x="718.40" y="1250.2" font-size="12.7" font-weight="bold" fill="#dddde4" textLength="63.15" lengthAdjust="spacingAndGlyphs" stroke="#dddde4" stroke-width="0.55" stroke-linejoin="round">USB HOST1</text>
<text x="923.60" y="1250.2" font-size="12.7" font-weight="bold" fill="#dddde4" textLength="63.65" lengthAdjust="spacingAndGlyphs" stroke="#dddde4" stroke-width="0.55" stroke-linejoin="round">USB HOST2</text>
<text x="269.56" y="974.2" font-size="25.3" font-weight="normal" fill="#0b0b0b" textLength="127.87" lengthAdjust="spacingAndGlyphs" >Power Port</text>
<text x="284.13" y="1001.8" font-size="25.3" font-weight="normal" fill="#0b0b0b" textLength="106.69" lengthAdjust="spacingAndGlyphs" >(12V/3A)</text>
<path d="M407.3,989 H448.1 Q461.1,989 461.1,1002 V1067" fill="none" stroke="#d60f1b" stroke-width="2"/>
<circle cx="461.1" cy="1067.2" r="5.9" fill="#da0d18"/>
<text x="468.80" y="974.2" font-size="25.3" font-weight="normal" fill="#0b0b0b" textLength="147.12" lengthAdjust="spacingAndGlyphs" >USB 3.0 Port</text>
<path d="M545.7,985.2 V1087" fill="none" stroke="#d60f1b" stroke-width="2"/>
<circle cx="545.7" cy="1087.0" r="5.9" fill="#da0d18"/>
<text x="692.90" y="973.8" font-size="25.3" font-weight="normal" fill="#0b0b0b" textLength="119.03" lengthAdjust="spacingAndGlyphs" >3x DP Out</text>
<path d="M683,966.1 H658.4 Q646.4,966.1 646.4,978.1 V1032" fill="none" stroke="#d60f1b" stroke-width="2"/>
<circle cx="646.4" cy="1032.3" r="5.9" fill="#da0d18"/>
<text x="911.80" y="973.8" font-size="25.3" font-weight="normal" fill="#0b0b0b" textLength="97.27" lengthAdjust="spacingAndGlyphs" >6x DP In</text>
<path d="M957.1,979.2 V997.5 M850.6,1034 V1008.5 Q850.6,997.5 861.6,997.5 H1052.1 Q1063.1,997.5 1063.1,1008.5 V1034" fill="none" stroke="#d60f1b" stroke-width="2"/>
<circle cx="850.6" cy="1034.0" r="5.9" fill="#da0d18"/>
<circle cx="1063.1" cy="1034.0" r="5.9" fill="#da0d18"/>
<circle cx="473.1" cy="1263.0" r="5.9" fill="#da0d18"/>
<path d="M473.1,1263 V1332.7" fill="none" stroke="#d60f1b" stroke-width="2"/>
<text x="368.30" y="1359.3" font-size="25.3" font-weight="normal" fill="#0b0b0b" textLength="210.33" lengthAdjust="spacingAndGlyphs" >1G LAN (Ethernet)</text>
<circle cx="748.0" cy="1263.6" r="5.9" fill="#da0d18"/>
<circle cx="959.7" cy="1263.6" r="5.9" fill="#da0d18"/>
<path d="M748,1263.6 V1290.6 Q748,1300.6 758,1300.6 H949.7 Q959.7,1300.6 959.7,1290.6 V1263.6 M853.9,1300.6 V1332" fill="none" stroke="#d60f1b" stroke-width="2"/>
<text x="777.60" y="1359.3" font-size="25.3" font-weight="normal" fill="#0b0b0b" textLength="144.93" lengthAdjust="spacingAndGlyphs" >2x USB Host</text>
</svg>
</body></html>
